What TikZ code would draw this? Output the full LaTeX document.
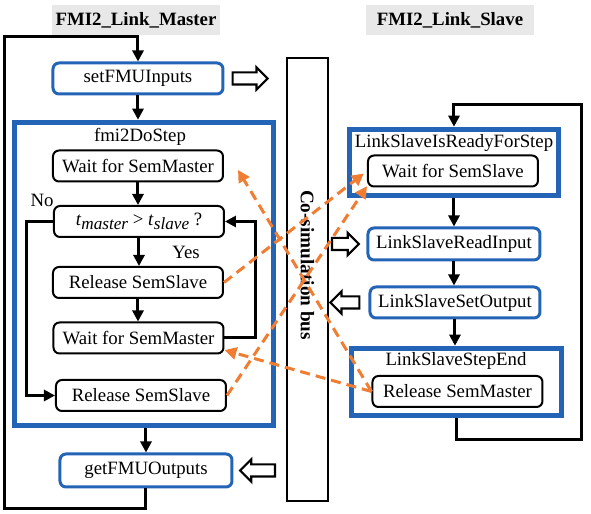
\documentclass[tikz,border=0pt]{standalone}
\usepackage{fontspec}
\setmainfont{Liberation Serif}
\usetikzlibrary{arrows.meta, positioning, shapes.arrows, calc}
\definecolor{linkblue}{RGB}{36,100,182}
\definecolor{syncorange}{RGB}{240,125,50}

\begin{document}
\begin{tikzpicture}[x=0.5pt, y=-0.5pt,
    font=\fontsize{9.4}{11}\selectfont,
    titlebox/.style={fill=gray!18, font=\fontsize{9.4}{11}\selectfont\bfseries,
                     minimum width=84pt, minimum height=15pt, inner sep=1pt},
    blockbox/.style={draw=linkblue, line width=1.5pt, rounded corners=3pt,
                     minimum width=85pt, minimum height=15.5pt, inner sep=1pt},
    stepbox/.style={draw, line width=1pt, rounded corners=3pt,
                    minimum width=85pt, minimum height=15.5pt, inner sep=1pt},
    groupbox/.style={draw=linkblue, line width=2.8pt, inner sep=0pt},
    busbox/.style={draw, line width=1.4pt, minimum width=20.5pt,
                   minimum height=221.5pt, inner sep=0pt},
    portarrow/.style={draw, line width=1.1pt, single arrow, single arrow head extend=2.5pt,
                      single arrow head indent=0pt, inner sep=2.5pt, minimum height=17.5pt},
    flow/.style={-{Triangle[length=5.5pt,width=5.5pt]}, line width=1.5pt},
    sync/.style={-{Triangle[length=6pt,width=6pt]}, syncorange, line width=1.5pt,
                 dash pattern=on 5pt off 3pt}]

    \useasboundingbox (0,0) rectangle (591,514);

    % Master side
    \node[titlebox] (mtitle) at (136,20) {FMI2\_Link\_Master};
    \node[blockbox] (setin) at (138,78.5) {setFMUInputs};
    \node[portarrow, right=3.5pt of setin] (inport) {};
    \node[groupbox, minimum width=129.5pt, minimum height=151.5pt] (dostep) at (144,274) {};
    \node (dolabel) at (140,137) {fmi2DoStep};
    \node[stepbox] (wait1) at (138,166) {Wait for SemMaster};
    \node[stepbox] (cond) at (139,221.5)
        {\textit{t}\raisebox{-.5ex}{\fontsize{8.6}{9}\selectfont\textit{master}} >
         \textit{t}\raisebox{-.5ex}{\fontsize{8.6}{9}\selectfont\textit{slave}} ?};
    \node[stepbox] (rel1) at (138,282.5) {Release SemSlave};
    \node[stepbox] (wait2) at (138.5,338) {Wait for SemMaster};
    \node[stepbox] (rel2) at (141,395.5) {Release SemSlave};
    \node[blockbox, minimum width=86pt, minimum height=16.5pt] (getout) at (146,470.5) {getFMUOutputs};
    \node[portarrow, shape border rotate=180, right=2.5pt of getout] (outport) {};
    \node (nolabel) at (42,200) {No};
    \node (yeslabel) at (186,252) {Yes};

    % Co-simulation bus
    \node[busbox] (bus) at (307.5,279.5) {};
    \node[rotate=-90, font=\fontsize{9.6}{11}\selectfont\bfseries] (buslabel) at (307.5,265) {Co-simulation bus};

    % Slave side
    \node[titlebox] (stitle) at (450,20) {FMI2\_Link\_Slave};
    \node[groupbox, minimum width=104.5pt, minimum height=33pt] (ready) at (454,162.5) {};
    \node (readylabel) at (454,143) {LinkSlaveIsReadyForStep};
    \node[stepbox] (wsl) at (453,171) {Wait for SemSlave};
    \node[blockbox, minimum width=86pt, minimum height=16pt] (readin) at (454,244) {LinkSlaveReadInput};
    \node[portarrow, left=3pt of readin, minimum height=13.5pt] (readport) {};
    \node[blockbox] (setout) at (455,302.5) {LinkSlaveSetOutput};
    \node[portarrow, shape border rotate=180, left=4pt of setout, minimum height=14.5pt] (setport) {};
    \node[groupbox, minimum width=105pt, minimum height=33.5pt] (stepend) at (456.5,382) {};
    \node (endlabel) at (456,361) {LinkSlaveStepEnd};
    \node[stepbox] (relm) at (457.5,391.5) {Release SemMaster};

    % Master control flow
    \draw[flow] (getout.south) -- ++(0,20) -| (5,37) -| (setin.north);
    \draw[flow] (setin.south) -- (setin.south |- dostep.north);
    \draw[flow] (wait1.south) -- (wait1.south |- cond.north);
    \draw[flow] (cond.south) -- (cond.south |- rel1.north);
    \draw[flow] (rel1.south) -- (rel1.south |- wait2.north);
    \draw[flow] (wait2.east) -- ++(31,0) |- (cond.east);
    \draw[flow] (cond.west) -- ++(-26,0) |- (rel2.west);
    \draw[flow] (dostep.south -| getout.north) -- (getout.north);

    % Slave control flow
    \draw[flow] (ready.south -| readin.north) -- (readin.north);
    \draw[flow] (readin.south) -- (readin.south |- setout.north);
    \draw[flow] (setout.south) -- (setout.south |- stepend.north);
    \draw[flow] (stepend.south) -- ++(0,21) -| (582,105) -| (ready.north);

    % Semaphore signals
    \draw[sync, shorten >=2pt] (rel1.east) -- (wsl.west);
    \draw[sync] (rel2.east) -- (wsl.190);
    \draw[sync] (relm.west) -- ([xshift=7pt,yshift=-2pt]wait1.east);
    \draw[sync] (relm.west) -- (wait2.-8);
\end{tikzpicture}
\end{document}
